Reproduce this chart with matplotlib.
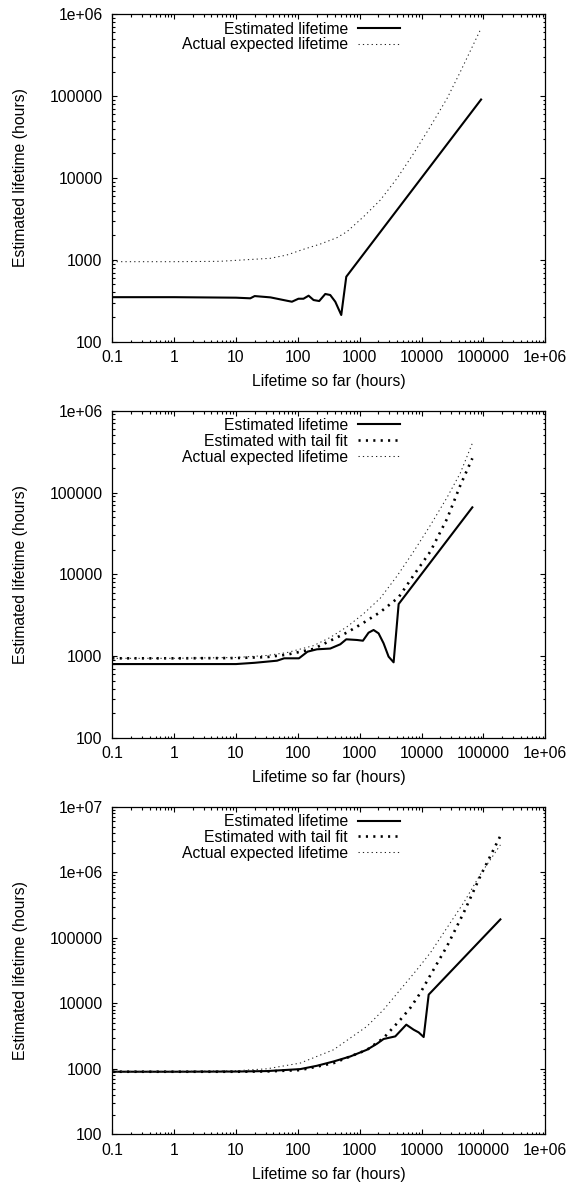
import matplotlib
matplotlib.use("Agg")
import matplotlib.pyplot as plt
from matplotlib.ticker import LogLocator, NullFormatter

plt.rcParams["font.family"] = ["Liberation Sans", "DejaVu Sans"]
plt.rcParams["font.size"] = 11.3

# ---- panel 1 ----
p1_est_x = [0.1, 1, 10, 17, 20, 36, 66, 80, 102, 123, 149, 179, 221, 277, 333, 402, 502, 605, 91400]
p1_est_y = [350, 350, 345, 339, 361, 348, 317, 308, 335, 335, 365, 323, 314, 383, 372, 308, 212, 622, 91000]
p1_act_x = [0.1, 1, 5.5, 36, 66, 123, 230, 427, 621, 1150, 2150, 4000, 7430, 13800, 25800, 42300, 91400]
p1_act_y = [950, 950, 960, 1045, 1145, 1346, 1560, 1866, 2210, 3365, 5380, 9900, 20000, 42400, 94000, 199000, 674000]

# ---- panel 2 ----
p2_est_x = [0.1, 1, 10, 20, 46, 60, 104, 143, 203, 333, 484, 605, 902, 1125, 1387, 1671, 2014, 2427, 2924, 3524, 4250, 66000]
p2_est_y = [803, 803, 803, 832, 883, 944, 944, 1138, 1216, 1242, 1400, 1611, 1581, 1549, 1941, 2094, 1905, 1439, 989, 843, 4345, 66000]
p2_tail_x = [0.1, 1, 10, 31.6, 66.4, 179, 333, 621, 1153, 2148, 4246, 7430, 13840, 25760, 42270, 66000]
p2_tail_y = [944, 944, 951, 977, 1047, 1230, 1549, 1950, 2570, 3467, 5248, 9772, 19050, 47860, 123000, 262000]
p2_act_x = [0.1, 1, 10, 31.6, 66.4, 179, 333, 621, 1153, 2148, 4000, 7430, 13840, 25760, 42270, 66000]
p2_act_y = [944, 944, 966, 1023, 1109, 1349, 1698, 2291, 3311, 5129, 9550, 19050, 39810, 87100, 173800, 400000]

# ---- panel 3 ----
p3_est_x = [0.1, 1, 10, 31.6, 109, 203, 377, 701, 1306, 1897, 2427, 3750, 5649, 7430, 8954, 10790, 13000, 187500]
p3_est_y = [902, 902, 908, 923, 989, 1112, 1294, 1542, 1954, 2415, 2851, 3126, 4721, 3954, 3597, 3055, 13580, 191400]
p3_tail_x = [0.1, 1, 10, 31.6, 109, 377, 1306, 2427, 4529, 6561, 9528, 13840, 25760, 47860, 89130, 187500]
p3_tail_y = [902, 902, 902, 912, 955, 1222, 1950, 2951, 5623, 8511, 14420, 26920, 74650, 242100, 881000, 3606000]
p3_act_x = [0.1, 1, 10, 31.6, 109, 377, 1306, 2427, 4529, 8433, 13840, 47860, 89130, 187500]
p3_act_y = [912, 912, 933, 1000, 1222, 1954, 4446, 8000, 16220, 32810, 59160, 344400, 935000, 2630000]

x_ticks = [0.1, 1, 10, 100, 1000, 10000, 100000, 1e6]
x_labels = ["0.1", "1", "10", "100", "1000", "10000", "100000", "1e+06"]
y_ticks = [100, 1000, 10000, 100000, 1e6, 1e7]
y_labels = ["100", "1000", "10000", "100000", "1e+06", "1e+07"]

panels = [
    (0.7114, 1e6, [(p1_est_x, p1_est_y, "est"), (p1_act_x, p1_act_y, "act")]),
    (0.3766, 1e6, [(p2_est_x, p2_est_y, "est"), (p2_tail_x, p2_tail_y, "tail"), (p2_act_x, p2_act_y, "act")]),
    (0.0420, 1e7, [(p3_est_x, p3_est_y, "est"), (p3_tail_x, p3_tail_y, "tail"), (p3_act_x, p3_act_y, "act")]),
]

styles = {
    "est": dict(color="black", lw=1.5, linestyle="-", label="Estimated lifetime"),
    "tail": dict(color="black", lw=1.9, linestyle=(0, (0.8, 2.0)), label="Estimated with tail fit"),
    "act": dict(color="#222222", lw=0.75, linestyle=(0, (1.2, 3.0)), label="Actual expected lifetime"),
}

fig = plt.figure(figsize=(5.71, 11.84), dpi=100)

for bottom, ytop, series in panels:
    ax = fig.add_axes([0.1967, bottom, 0.7584, 0.2765])
    for xs, ys, kind in series:
        ax.plot(xs, ys, **styles[kind])
    ax.set_xscale("log")
    ax.set_yscale("log")
    ax.set_xlim(0.1, 1e6)
    ax.set_ylim(100, ytop)

    nt = [t for t in y_ticks if t <= ytop]
    ax.set_xticks(x_ticks, labels=x_labels)
    ax.set_yticks(nt, labels=y_labels[:len(nt)])
    ax.xaxis.set_minor_locator(LogLocator(base=10, subs=range(2, 10), numticks=20))
    ax.yaxis.set_minor_locator(LogLocator(base=10, subs=range(2, 10), numticks=20))
    ax.xaxis.set_minor_formatter(NullFormatter())
    ax.yaxis.set_minor_formatter(NullFormatter())
    ax.tick_params(which="both", direction="in", top=True, right=True, width=0.8)
    ax.tick_params(which="major", length=3.3)
    ax.tick_params(which="minor", length=1.8)
    ax.tick_params(axis="x", which="major", pad=6)
    ax.tick_params(axis="y", which="major", pad=7)
    for sp in ax.spines.values():
        sp.set_linewidth(0.9)

    ax.set_xlabel("Lifetime so far (hours)", labelpad=6.5)
    ax.set_ylabel("Estimated lifetime (hours)")
    ax.yaxis.set_label_coords(-0.195, 0.5)

    ax.legend(loc="upper right", bbox_to_anchor=(0.6644, 0.978), frameon=False,
              markerfirst=False, handlelength=2.65, handletextpad=0.66,
              labelspacing=0.05, borderpad=0, borderaxespad=0)

fig.savefig("out.png", dpi=100)
